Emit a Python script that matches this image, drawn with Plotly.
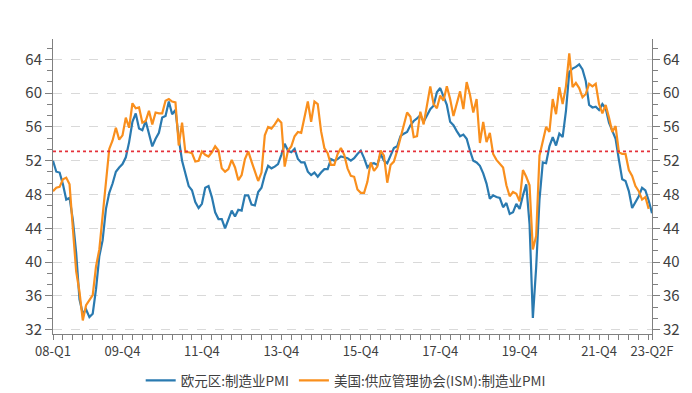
import plotly.graph_objects as go
import pandas as pd

# monthly categories, Mar 2008 .. Apr 2023
months = [d.strftime("%Y-%m") for d in pd.date_range("2008-03-01", "2023-04-01", freq="MS")]

ez_pmi = [
    52.0, 50.7, 50.6, 49.2, 47.4, 47.6, 45.0, 41.1, 35.6, 33.9,
    34.4, 33.5, 33.9, 36.8, 40.7, 42.6, 46.3, 48.2, 49.3, 50.7, 51.2, 51.6,
    52.4, 54.2, 56.6, 57.6, 55.8, 55.6, 56.7, 55.1, 53.7, 54.6, 55.3, 57.1,
    57.3, 59.0, 57.5, 58.0, 54.6, 52.0, 50.4, 49.0, 48.5, 47.1, 46.4, 46.9,
    48.8, 49.0, 47.7, 45.9, 45.1, 45.1, 44.0, 45.1, 46.1, 45.4, 46.2, 46.1,
    47.9, 47.9, 46.8, 46.7, 48.3, 48.8, 50.3, 51.4, 51.1, 51.3, 51.6, 52.7,
    54.0, 53.2, 53.0, 53.4, 52.2, 51.8, 51.8, 50.7, 50.3, 50.6, 50.1, 50.6,
    51.0, 51.0, 52.2, 52.0, 52.2, 52.5, 52.4, 52.3, 52.0, 52.3, 52.8, 53.2,
    52.3, 51.2, 51.6, 51.7, 51.5, 52.8, 52.0, 51.7, 52.6, 53.5, 53.7, 54.9,
    55.2, 55.4, 56.2, 56.7, 57.0, 57.4, 56.6, 57.4, 58.1, 58.5, 60.1, 60.6,
    59.6, 58.6, 56.6, 56.2, 55.5, 54.9, 55.1, 54.6, 53.2, 52.0, 51.8, 51.4,
    50.5, 49.3, 47.5, 47.9, 47.7, 47.6, 46.5, 47.0, 45.7, 45.9, 46.9, 46.3,
    47.9, 49.2, 44.5, 33.4, 39.4, 47.4, 51.8, 51.7, 53.7, 54.8, 53.8, 55.2,
    54.8, 57.9, 62.5, 62.9, 63.1, 63.4, 62.8, 61.4, 58.6, 58.3, 58.4, 58.0,
    58.7, 58.2, 56.5, 55.5, 54.6, 52.1, 49.8, 49.6, 48.4, 46.4, 47.1, 47.8,
    48.8, 48.5, 47.3, 45.8,
]

ism_pmi = [
    48.4, 48.8, 48.9, 49.8, 50.0, 49.2, 44.0, 38.9, 36.5, 33.1,
    34.9, 35.5, 36.1, 39.5, 41.5, 45.5, 49.2, 53.4, 54.4, 55.9, 54.5, 55.0,
    57.1, 55.9, 58.8, 58.2, 58.3, 56.5, 56.7, 57.9, 56.3, 57.7, 57.6, 57.6,
    59.1, 59.3, 59.0, 58.9, 53.8, 56.5, 53.0, 53.0, 52.9, 51.9, 52.0, 53.1,
    52.7, 52.5, 53.0, 53.7, 53.2, 51.1, 50.7, 51.0, 52.1, 51.2, 49.7, 50.3,
    52.2, 53.1, 51.9, 50.7, 49.6, 50.6, 55.0, 56.0, 55.8, 56.3, 56.9, 56.5,
    51.3, 53.2, 53.7, 54.9, 55.4, 55.3, 57.1, 59.0, 56.6, 59.0, 58.7, 55.5,
    53.5, 52.9, 51.5, 51.5, 52.8, 53.5, 52.7, 51.1, 50.2, 50.1, 48.6, 48.2,
    48.2, 49.5, 51.8, 50.8, 51.3, 53.2, 52.6, 49.4, 51.5, 51.9, 53.2, 54.7,
    56.0, 57.7, 57.2, 54.8, 54.9, 57.8, 56.3, 58.8, 60.8, 58.7, 58.2, 59.7,
    59.1, 60.8, 59.3, 57.3, 58.7, 60.2, 58.1, 61.3, 59.8, 57.7, 59.3, 54.1,
    56.6, 54.2, 55.3, 52.8, 52.1, 51.7, 51.2, 49.1, 47.8, 48.3, 48.1, 47.2,
    50.9, 50.1, 49.1, 41.5, 43.1, 52.6, 54.2, 56.0, 55.4, 59.3, 57.5, 60.7,
    58.7, 60.8, 64.7, 60.7, 61.2, 60.6, 59.5, 59.9, 61.1, 60.8, 61.1, 58.7,
    57.6, 58.6, 57.1, 55.4, 56.1, 53.0, 52.8, 52.8, 50.9, 50.2, 49.0, 48.4,
    47.4, 47.7, 46.3, None,
]

ref_level = 53.1

tick_labels = {
    "2008-03": "08-Q1", "2009-12": "09-Q4", "2011-12": "11-Q4", "2013-12": "13-Q4",
    "2015-12": "15-Q4", "2017-12": "17-Q4", "2019-12": "19-Q4", "2021-12": "21-Q4",
    "2023-04": "23-Q2F",
}

x = list(range(len(months)))
tickvals = [i for i in x if i % 3 == 0 or months[i] in tick_labels]
ticktext = [tick_labels.get(months[i], "") for i in tickvals]

name_ez = "欧元区:制造业PMI"
name_us = "美国:供应管理协会(ISM):制造业PMI"

fig = go.Figure()
fig.add_trace(go.Scatter(x=x, y=ez_pmi, mode="lines", name=name_ez,
                         line=dict(color="#2a7ab0", width=2.2), yaxis="y"))
fig.add_trace(go.Scatter(x=x, y=ism_pmi, mode="lines", name=name_us,
                         line=dict(color="#f98f1d", width=2.2), yaxis="y2"))

fig.add_shape(type="line", xref="paper", x0=0, x1=1, yref="y", y0=ref_level, y1=ref_level,
              line=dict(color="#e5323b", width=1.8, dash="dot"))

fam = "Noto Sans CJK SC, Noto Sans, sans-serif"
xfont = dict(family=fam, size=13, color="#404040")
yfont = dict(family=fam, size=15, color="#404040")
yrange = [31.5, 66.4]
yax_common = dict(
    range=yrange, tick0=32, dtick=4, ticks="outside", ticklen=7, tickcolor="#808080",
    showline=True, linecolor="#808080", linewidth=1, tickfont=yfont,
    minor=dict(tick0=32, dtick=4/3, ticks="outside", ticklen=5, tickcolor="#808080", showgrid=False),
    zeroline=False, fixedrange=True, automargin=False,
)

# the page body adds an 8px offset; margins compensate so the plot lands where the reference has it
fig.update_layout(
    width=692, height=393,
    margin=dict(l=45, r=48, t=31, b=67, autoexpand=False),
    paper_bgcolor="white", plot_bgcolor="white",
    font=dict(family=fam, color="#404040"),
    xaxis=dict(
        range=[0, len(months) - 1], tickmode="array", tickvals=tickvals, ticktext=ticktext,
        ticks="outside", ticklen=5, tickcolor="#808080", showline=True, linecolor="#808080",
        showgrid=False, zeroline=False, tickfont=xfont, tickangle=0, automargin=False,
    ),
    yaxis=dict(**yax_common, side="left", showgrid=True, gridcolor="#d9d9d9",
               griddash="dash", gridwidth=1),
    yaxis2=dict(**yax_common, side="right", overlaying="y", showgrid=False),
    legend=dict(orientation="h", x=0.488, xanchor="center", xref="container",
                y=0.052, yanchor="middle", yref="container",
                font=dict(family=fam, size=13.5, color="#404040"), bgcolor="rgba(0,0,0,0)"),
    showlegend=True,
)

fig.write_html("out.html")
